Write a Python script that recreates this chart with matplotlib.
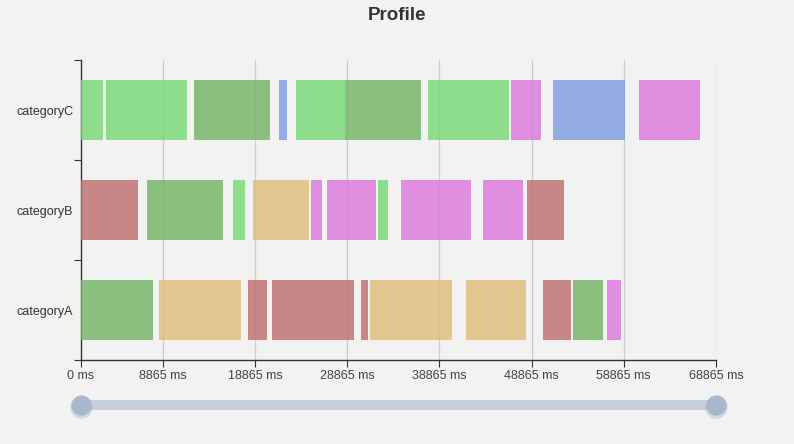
import matplotlib.pyplot as plt

categories = ["categoryA", "categoryB", "categoryC"]
type_colors = {
    "blue": "#7b9ce1",
    "red": "#bd6d6c",
    "green": "#75d874",
    "orange": "#e0bc78",
    "pink": "#dc77dc",
    "dkgreen": "#72b362",
}

# (start ms, end ms, type) per category
cat_a = [(0, 7841, "dkgreen"), (8459, 17319, "orange"), (18111, 20172, "red"),
         (20714, 29607, "red"), (30366, 31093, "red"), (31375, 40202, "orange"),
         (41753, 48228, "orange"), (50136, 53108, "red"), (53357, 56643, "dkgreen"),
         (57045, 58563, "pink")]
cat_b = [(0, 6214, "red"), (7125, 15367, "dkgreen"), (16484, 17786, "green"),
         (18621, 24727, "orange"), (24976, 26104, "pink"), (26711, 31993, "pink"),
         (32177, 33327, "green"), (34671, 42296, "pink"), (43564, 47935, "pink"),
         (48336, 52381, "red")]
cat_c = [(0, 2332, "green"), (2711, 11463, "green"), (12222, 20497, "dkgreen"),
         (21473, 22308, "blue"), (23317, 28631, "green"), (28631, 36873, "dkgreen"),
         (37665, 46417, "green"), (46601, 49887, "pink"), (51188, 58964, "blue"),
         (60515, 67131, "pink")]
blocks = [cat_a, cat_b, cat_c]

tick_values = [0, 8865, 18865, 28865, 38865, 48865, 58865, 68865]
x_max = 68865

plt.rcParams['font.family'] = ['Liberation Sans', 'DejaVu Sans']
bg = "#f2f2f2"
W, H = 794, 444
fig = plt.figure(figsize=(W / 100, H / 100), dpi=100, facecolor=bg)

left, right, top, bottom = 81, 716, 60, 360
ax = fig.add_axes([left / W, 1 - bottom / H, (right - left) / W, (bottom - top) / H])
ax.set_facecolor(bg)

for i, row in enumerate(blocks):
    for start, end, t in row:
        ax.barh(i + 0.5, end - start, left=start, height=0.6,
                color=type_colors[t], alpha=0.8, linewidth=0, zorder=3)

ax.set_xlim(0, x_max)
ax.set_ylim(0, 3)
ax.set_xticks(tick_values)
ax.set_xticklabels([f"{v} ms" for v in tick_values], fontsize=9, color="#444444")
ax.set_yticks([0, 1, 2, 3])
ax.set_yticklabels([])
ax.set_yticks([0.5, 1.5, 2.5], minor=True)
ax.set_yticklabels(categories, minor=True, fontsize=9, color="#333333")
ax.tick_params(axis="y", which="minor", length=0, pad=5.5)
ax.tick_params(axis="y", which="major", length=5, color="#333333")
ax.tick_params(axis="x", length=5, color="#333333", pad=2)
ax.grid(True, axis="x", color="#cccccc", linewidth=0.9, zorder=0)
for s in ["top", "right"]:
    ax.spines[s].set_visible(False)
for s in ["left", "bottom"]:
    ax.spines[s].set_color("#333333")
    ax.spines[s].set_linewidth(1)

fig.text(0.5, 1 - 15 / H, "Profile", ha="center", va="center",
         fontsize=13.5, fontweight="bold", color="#333333")

# data zoom slider
sl = fig.add_axes([left / W, 1 - 425 / H, (right - left) / W, 40 / H])
sl.set_xlim(0, x_max)
sl.set_ylim(40, 0)
sl.axis("off")
sl.fill_between([0, x_max], 15, 25, color="#c8cfdb", linewidth=0)
for xv in [0, x_max]:
    sl.scatter([xv], [21.5], s=260, color="#888888", alpha=0.25, linewidths=0, clip_on=False)
    sl.scatter([xv], [20], s=210, color="#a7b7cc", linewidths=0, clip_on=False, zorder=3)

fig.savefig("out.png", dpi=100, facecolor=bg)
